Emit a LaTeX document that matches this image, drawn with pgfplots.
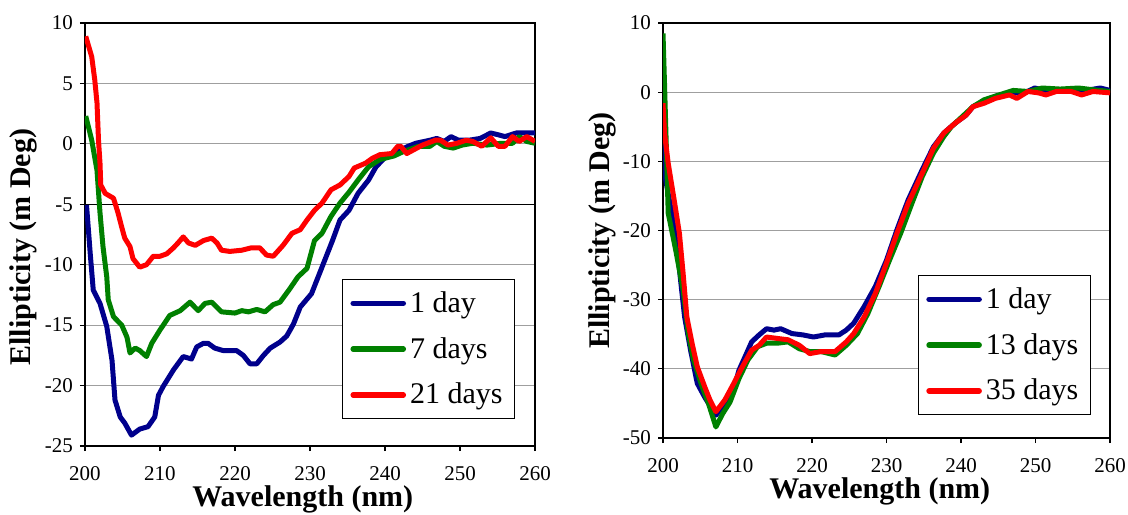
\documentclass[border=0pt]{standalone}
\usepackage{fontspec}
\setmainfont{Liberation Serif}
\usepackage{pgfplots}
\pgfplotsset{compat=1.18}

\definecolor{cnavy}{RGB}{0,0,140}
\definecolor{cgreen}{RGB}{0,128,0}
\definecolor{cred}{RGB}{255,0,0}

\pgfplotsset{
 cdstyle/.style={
  scale only axis, xmin=200, xmax=260, xtick={200,210,...,260},
  tick align=outside, xtick pos=bottom, ytick pos=left,
  major tick length=2.5pt, tick style={black, line width=0.6pt},
  ymajorgrids, grid style={gray!75, line width=0.5pt},
  axis line style={black, line width=0.9pt},
  ticklabel style={font=\fontsize{10.5}{12}\selectfont},
  xticklabel style={yshift=-4pt},
  /pgf/number format/assume math mode=true,
  xlabel={Wavelength (nm)}, ylabel={Ellipticity (m Deg)},
  label style={font=\fontsize{15}{18}\selectfont\bfseries},
  legend cell align=left,
  legend style={font=\fontsize{15}{18}\selectfont, draw=black, line width=0.5pt,
    anchor=north west, inner xsep=4pt, inner ysep=4pt, row sep=7pt},
  legend image code/.code={\draw[#1, line width=2.8pt, line cap=round] (0pt,0pt) -- (25pt,0pt);},
  every axis plot/.append style={line width=2.5pt, line join=round},
 }
}

\begin{document}
\begin{tikzpicture}
\useasboundingbox (-42.5pt,-34pt) rectangle (521.5pt,223pt);
\begin{axis}[cdstyle, at={(0pt,0pt)}, anchor=south west,
  width=225pt, height=211.5pt,
  ymin=-25, ymax=10, ytick={-25,-20,...,10},
  extra y ticks={-5}, extra y tick labels={},
  extra y tick style={grid style={black, line width=0.6pt}},
  xlabel style={at={([yshift=-26.5pt]axis description cs:0.484,0)}, anchor=center},
  ylabel style={at={([xshift=-31pt]axis description cs:0,0.47)}, anchor=center},
  legend style={at={(axis description cs:0.571,0.395)}}]
\addplot[cnavy] coordinates {
(200.2,-5.06)(200.7,-9.1)(201.1,-12.1)(202,-13.2)(202.9,-15.1)(203.6,-17.9)(204,-21.2)
(204.7,-22.6)(205.3,-23.1)(206.2,-24.1)(207.3,-23.6)(208.4,-23.4)(209.3,-22.6)(209.8,-20.8)
(210.4,-20.1)(211.8,-18.7)(213.1,-17.6)(214.2,-17.8)(214.9,-16.8)(215.8,-16.5)(216.4,-16.5)
(217.3,-16.9)(218.4,-17.1)(220.2,-17.1)(221.1,-17.5)(222,-18.2)(222.9,-18.2)(223.8,-17.5)
(224.7,-16.9)(226,-16.4)(226.9,-15.9)(227.8,-14.9)(228.7,-13.5)(230.2,-12.4)(231.6,-10.2)
(233,-8)(234,-6.3)(235.2,-5.5)(236.4,-4.1)(237.8,-3)(238.8,-1.9)(240.2,-1)(241.7,-0.6)
(243.1,-0.2)(244.1,0.05)(246,0.3)(246.9,0.45)(247.9,0.2)(248.8,0.6)(249.8,0.3)(251.2,0.3)
(252.7,0.45)(254.1,0.9)(255.1,0.75)(256,0.6)(257.5,0.9)(260,0.9)};
\addlegendentry{1 day}
\addplot[cgreen] coordinates {
(200.1,2.3)(200.9,0.3)(201.6,-2.2)(202,-5.7)(202.4,-8.5)(202.9,-11)(203.1,-12.9)(203.8,-14.3)
(204.9,-15)(205.6,-16)(206,-17.3)(206.7,-16.9)(207.3,-17.1)(208.2,-17.6)(208.9,-16.5)
(210,-15.4)(211.3,-14.2)(212.7,-13.8)(214,-13.1)(215.1,-13.8)(216,-13.2)(216.9,-13.1)
(218.2,-13.9)(220,-14)(220.9,-13.8)(221.8,-13.9)(222.9,-13.7)(224,-13.9)(225.1,-13.3)
(226,-13.1)(227.3,-12)(228.4,-11)(229.6,-10.3)(230.6,-8)(231.6,-7.4)(232.8,-6)(234,-4.9)
(235.2,-4)(236.4,-3)(237.8,-1.9)(239.3,-1.3)(241.2,-1)(242.6,-0.6)(244.5,-0.2)(246,-0.2)
(246.9,0.2)(247.9,-0.2)(249.1,-0.35)(250.3,-0.1)(251.7,0.05)(253.6,-0.1)(255.5,0.05)
(257,0.05)(257.9,0.6)(258.9,0.2)(260,0.05)};
\addlegendentry{7 days}
\addplot[cred] coordinates {
(200.1,8.9)(200.9,7.2)(201.3,5.3)(201.6,3.4)(201.8,0.3)(202,-1.6)(202.1,-3.4)(202.7,-4.1)
(203.8,-4.5)(204.4,-5.7)(204.9,-6.9)(205.3,-7.8)(206,-8.5)(206.4,-9.5)(207.3,-10.2)
(208.2,-10)(209.1,-9.3)(210,-9.3)(210.9,-9.1)(211.8,-8.6)(212.4,-8.2)(213.1,-7.7)
(213.8,-8.2)(214.7,-8.4)(215.8,-8)(216.9,-7.8)(217.6,-8.2)(218.2,-8.8)(219.3,-8.9)
(220.9,-8.8)(222.2,-8.6)(223.3,-8.6)(224.2,-9.2)(225.1,-9.3)(226.4,-8.4)(227.6,-7.4)
(228.7,-7.1)(229.6,-6.3)(230.6,-5.5)(231.6,-4.9)(232.8,-3.8)(234,-3.4)(235.2,-2.7)
(235.9,-2)(237.4,-1.6)(238.3,-1.2)(239.3,-0.9)(240.9,-0.8)(241.7,-0.2)(242.1,-0.2)
(242.9,-0.8)(243.8,-0.5)(245,-0.1)(246.7,0.3)(247.4,0.3)(248.4,-0.1)(249.6,0.05)
(250.8,0.3)(251.7,0.2)(252.9,-0.2)(254.1,0.5)(255.1,-0.2)(256,-0.2)(257,0.6)(257.9,0.2)
(258.9,0.6)(260,0.2)};
\addlegendentry{21 days}
\end{axis}

\begin{axis}[cdstyle, at={(289pt,4pt)}, anchor=south west,
  width=223.5pt, height=207.5pt,
  ymin=-50, ymax=10, ytick={-50,-40,...,10},
  xlabel style={at={([yshift=-26.5pt]axis description cs:0.485,0)}, anchor=center},
  ylabel style={at={([xshift=-30.5pt]axis description cs:0,0.5)}, anchor=center},
  legend style={at={(axis description cs:0.570,0.393)}}]
\addplot[cnavy] coordinates {
(200,-5.9)(200.2,-11.7)(201,-16.5)(201.7,-20.4)(202.4,-27.6)(202.9,-32.5)(203.7,-37.3)
(204.6,-42.1)(205.6,-44.1)(207.1,-46.7)(208,-45.5)(209.3,-43.6)(210.2,-40.2)(211.2,-37.8)
(211.9,-36.1)(212.9,-35.1)(213.9,-34.2)(214.9,-34.4)(215.8,-34.2)(217.3,-34.9)(218.8,-35.1)
(220.2,-35.4)(221.7,-35.1)(223.6,-35.1)(224.6,-34.4)(225.6,-33.4)(227,-31)(228.5,-28.1)
(230,-24.3)(231.4,-19.9)(232.9,-15.6)(234.8,-11.2)(236.3,-7.9)(237.7,-5.9)(239.2,-4.5)
(240.7,-3.3)(241.6,-2.1)(243.1,-1.3)(244.6,-0.6)(246.5,-0.1)(248.5,-0.1)(249.9,0.6)
(251.4,0.25)(253.3,0.35)(255.3,0.45)(256.7,0.25)(258.7,0.6)(260,0.25)};
\addlegendentry{1 day}
\addplot[cgreen] coordinates {
(200,8.5)(200.2,1.3)(200.7,-17.5)(201.7,-22.8)(202.7,-28.6)(203.4,-34.9)(204.1,-38.7)
(205.1,-42.1)(206.1,-45)(207.1,-48.4)(208,-46.5)(209,-44.8)(210.2,-41.4)(211.4,-38.7)
(212.7,-36.8)(213.9,-36.3)(215.3,-36.3)(216.8,-36.1)(218.3,-37.1)(219.7,-37.5)(221.2,-37.5)
(223.1,-38)(224.6,-36.6)(226.1,-34.9)(227.5,-32)(229,-28.1)(230.4,-24.3)(231.9,-20.4)
(233.4,-16.1)(234.8,-12.2)(236.3,-8.8)(237.7,-6.4)(238.7,-5)(240.2,-3.5)(241.6,-2.1)
(243.1,-1.1)(245.1,-0.4)(247,0.25)(249,0.1)(250.9,0.6)(253.3,0.45)(255.8,0.6)(257.7,0.35)
(260,0.1)};
\addlegendentry{13 days}
\addplot[cred] coordinates {
(200,-1.6)(200.2,-5.9)(200.7,-10.3)(201.5,-15.6)(202.2,-20.4)(202.7,-26.2)(203.2,-32.5)
(203.9,-36.3)(204.6,-39.7)(205.6,-42.6)(206.3,-44.5)(207.1,-46.2)(208.3,-44.5)(209.5,-42.1)
(210.5,-40)(211.9,-37.3)(212.9,-36.6)(213.9,-35.4)(215.3,-35.6)(216.8,-35.8)(218.3,-36.6)
(219.7,-37.8)(221.2,-37.5)(223.1,-37.5)(224.6,-36.1)(225.6,-34.9)(227,-32.5)(228.5,-29.1)
(230,-24.7)(231.4,-20.4)(232.9,-16.1)(234.8,-11.7)(236.3,-8.1)(237.7,-5.9)(239.2,-4.5)
(240.7,-3.3)(241.6,-2.1)(243.1,-1.6)(244.6,-0.9)(246.5,-0.4)(247.5,-0.9)(249,0.1)
(250.4,-0.1)(251.4,-0.4)(252.8,0.1)(254.8,0.1)(256.2,-0.4)(257.7,0.1)(260,-0.1)};
\addlegendentry{35 days}
\end{axis}
\end{tikzpicture}
\end{document}
